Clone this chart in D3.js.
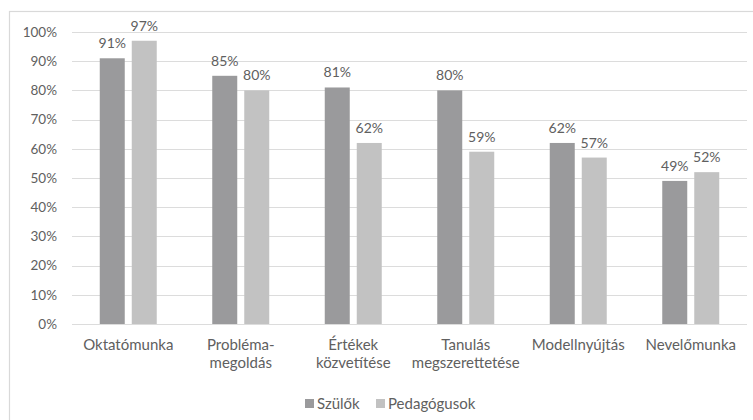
<!DOCTYPE html>
<html>
<head>
<meta charset="utf-8">
<script src="https://cdn.jsdelivr.net/npm/d3@7/dist/d3.min.js"></script>
<style>
  html, body { margin: 0; padding: 0; background: #fff; }
  svg { display: block; }
  text { font-family: Lato, "Open Sans", sans-serif; fill: #606060; }
</style>
</head>
<body>
<svg id="chart" width="753" height="420"></svg>
<script>
const categories = [
  ["Oktatómunka"],
  ["Probléma-", "megoldás"],
  ["Értékek", "közvetítése"],
  ["Tanulás", "megszerettetése"],
  ["Modellnyújtás"],
  ["Nevelőmunka"]
];
const seriesNames = ["Szülők", "Pedagógusok"];
const szulok = [91, 85, 81, 80, 62, 49];
const pedagogusok = [97, 80, 62, 59, 57, 52];
const yTicks = [0, 10, 20, 30, 40, 50, 60, 70, 80, 90, 100];
const colors = ["#9a9a9c", "#c2c2c2"];

const svg = d3.select("#chart");
const plot = { left: 72, right: 747, top: 32, bottom: 324 };

// chart frame
svg.append("rect")
  .attr("x", 9.5).attr("y", 11.5)
  .attr("width", 800).attr("height", 500)
  .attr("fill", "#fff").attr("stroke", "#d9d9d9").attr("stroke-width", 1.2);

const x = d3.scaleBand()
  .domain(d3.range(categories.length))
  .range([plot.left, plot.right]);
const y = d3.scaleLinear().domain([0, 100]).range([plot.bottom, plot.top]);

// gridlines
svg.append("g").selectAll("line").data(yTicks).join("line")
  .attr("x1", plot.left).attr("x2", plot.right)
  .attr("y1", d => Math.round(y(d)) + 0.5).attr("y2", d => Math.round(y(d)) + 0.5)
  .attr("stroke", "#dcdcdc").attr("stroke-width", 1);

// y axis labels
const yAxis = d3.axisLeft(y).tickValues(yTicks).tickFormat(d => d + "%").tickSize(0).tickPadding(0);
const ga = svg.append("g").attr("transform", `translate(57,0)`).call(yAxis);
ga.select(".domain").remove();
ga.selectAll("text").attr("font-size", 13.5).attr("fill", "#606060")
  .style("font-family", "Lato, sans-serif");

const barW = 25, inner = 7;
const series = [szulok, pedagogusok];
series.forEach((vals, si) => {
  const g = svg.append("g");
  const bx = i => x(i) + x.bandwidth() / 2 + (si === 0 ? -(barW + inner / 2) : inner / 2);
  g.selectAll("rect").data(vals).join("rect")
    .attr("x", (d, i) => bx(i))
    .attr("y", d => y(d))
    .attr("width", barW)
    .attr("height", d => y(0) - y(d))
    .attr("fill", colors[si]);
  g.selectAll("text").data(vals).join("text")
    .attr("x", (d, i) => bx(i) + barW / 2)
    .attr("y", d => y(d) - 10)
    .attr("text-anchor", "middle")
    .attr("font-size", 14)
    .text(d => d + "%");
});

// category labels
const cl = svg.append("g");
categories.forEach((lines, i) => {
  const t = cl.append("text")
    .attr("x", x(i) + x.bandwidth() / 2)
    .attr("y", 350)
    .attr("text-anchor", "middle")
    .attr("font-size", 15);
  lines.forEach((ln, k) => {
    t.append("tspan").attr("x", x(i) + x.bandwidth() / 2).attr("dy", k === 0 ? 0 : 18).text(ln);
  });
});

// legend
const legendItems = [{ x: 305 }, { x: 376 }];
const lg = svg.append("g");
seriesNames.forEach((name, i) => {
  lg.append("rect").attr("x", legendItems[i].x).attr("y", 399)
    .attr("width", 9).attr("height", 9).attr("fill", colors[i]);
  lg.append("text").attr("x", legendItems[i].x + 12).attr("y", 409)
    .attr("font-size", 15).text(name);
});
</script>
</body>
</html>
